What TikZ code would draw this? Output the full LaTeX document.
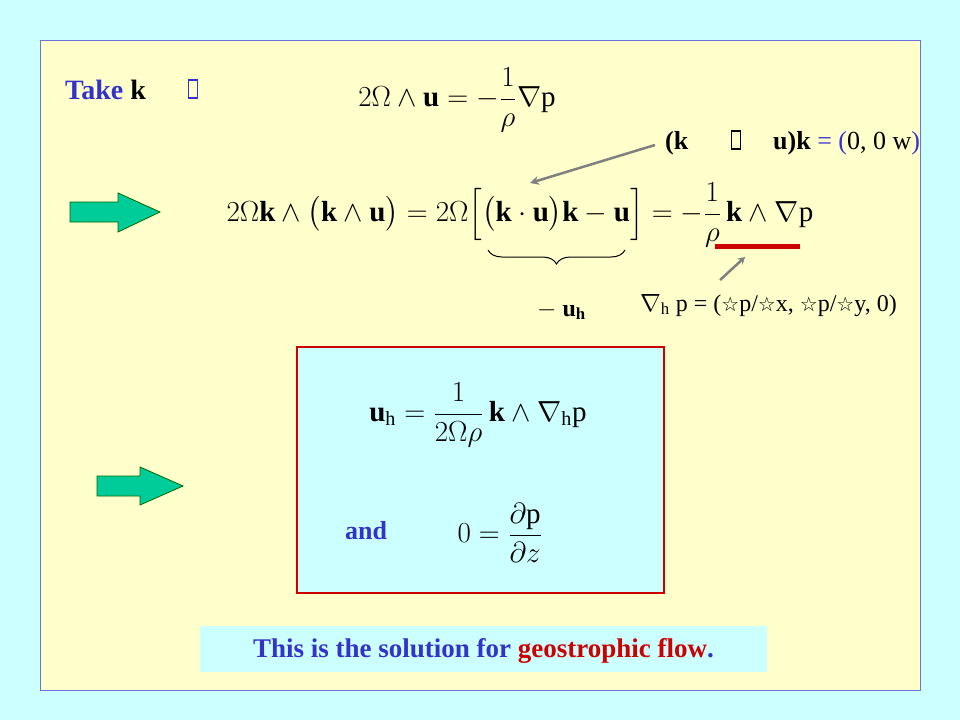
\documentclass[tikz,border=0pt]{standalone}
\usepackage{fontspec}
\setmainfont{Liberation Serif}
\newfontfamily\symf{DejaVu Sans}
\usepackage{amsmath}
\usetikzlibrary{decorations.pathreplacing,arrows.meta}
\definecolor{bgc}{HTML}{CCFFFF}
\definecolor{panel}{HTML}{FFFFCC}
\definecolor{tblue}{HTML}{3333CC}
\definecolor{tred}{HTML}{CC0000}
\definecolor{agreen}{HTML}{00CC99}
\newcommand{\wst}{{\symf\fontsize{20}{22}\selectfont ☆}}
\newcommand{\EQ}[1]{\scalebox{1.4}{\fontsize{20.74}{24}\selectfont$\displaystyle #1$}}
\tikzset{
 garrow/.style={draw=black!60!green,fill=agreen,line width=0.8pt},
 ptr/.style={draw=gray,line width=2.5pt,-{Stealth[length=9pt,width=9pt]}},
 tofu/.style={draw=tblue,line width=1.5pt,minimum width=9pt,minimum height=18pt,inner sep=0pt},
 eq/.style={inner sep=0pt},
 lbl/.style={font=\fontsize{24}{28}\selectfont,inner sep=0pt,anchor=base west}
}
\begin{document}
\begin{tikzpicture}[x=1pt,y=-1pt]
\fill[bgc] (0,0) rectangle (960,720);
\filldraw[fill=panel,draw=tblue!70,line width=0.8pt] (40,40) rectangle (920,690);
% Take k
\node[lbl,text=tblue,font=\fontsize{28}{30}\selectfont\bfseries] (take) at (65,99) {Take \textcolor{black}{k}};
\node[tofu] (t1) at (193,89) {};
\node[eq] (eq1) at (457,100) {\EQ{2\Omega\wedge\mathbf{u}=-\frac{1}{\rho}\nabla \mathrm{p}}};
% top right label
\node[lbl,font=\fontsize{26}{28}\selectfont\bfseries] (kk) at (665,149) {(k};
\node[tofu,draw=black] (t2) at (736,140) {};
\node[lbl,font=\fontsize{26}{28}\selectfont] (ku) at (773,149) {\textbf{u)k} \textcolor{tblue}{= (}0, 0 w\textcolor{tblue}{)}};
% arrows
\filldraw[garrow] (70,202) -- (118,202) -- (118,193) -- (160,212) -- (118,232) -- (118,222) -- (70,222) -- cycle;
\filldraw[garrow] (97,476) -- (140,476) -- (140,467) -- (183,486) -- (140,505) -- (140,496) -- (97,496) -- cycle;
% eq2
\node[eq] (eq2) at (520,215) {\EQ{2\Omega\mathbf{k}\wedge\big(\mathbf{k}\wedge\mathbf{u}\big)=2\Omega\Big[\big(\mathbf{k}\cdot\mathbf{u}\big)\mathbf{k}-\mathbf{u}\Big]=-\frac{1}{\rho}\,\mathbf{k}\wedge\nabla \mathrm{p}}};
\coordinate (c1) at (655,145);
\coordinate (c2) at (530,183);
\draw[ptr] (c1) -- (c2);
\coordinate (b1) at (488,250);
\coordinate (b2) at (625,250);
\draw[decorate,decoration={brace,mirror,amplitude=14pt},line width=1pt] (b1) -- (b2);
\node[lbl,font=\fontsize{24}{28}\selectfont\bfseries] (uh) at (537,316) {$-$ u\textsubscript{h}};
\coordinate (r1) at (715,246);
\coordinate (r2) at (800,246);
\draw[tred,line width=5pt] (r1) -- (r2);
\coordinate (p1) at (720,280);
\coordinate (p2) at (745,257);
\draw[ptr,-{Stealth[length=7pt,width=8pt]}] (p1) -- (p2);
\node[lbl,font=\fontsize{24}{26}\selectfont] (gh) at (640,311) {$\nabla$\textsubscript{h} p = (\wst p/\wst x, \wst p/\wst y, 0)};
% box
\filldraw[fill=bgc,draw=tred,line width=2pt] (297,347) rectangle (664,593);
\node[eq] (eq3) at (478,415) {\EQ{\mathbf{u}_{\mathrm{h}}=\frac{1}{2\Omega\rho}\,\mathbf{k}\wedge\nabla_{\mathrm{h}}\mathrm{p}}};
\node[lbl,text=tblue,font=\fontsize{26}{28}\selectfont\bfseries] (and) at (345,539) {and};
\node[eq] (eq4) at (500,533) {\EQ{0=\frac{\partial \mathrm{p}}{\partial z}}};
% bottom
\node[fill=bgc,minimum width=567pt,minimum height=46pt,inner sep=0pt] (bt) at (483.5,649) {};
\node[font=\fontsize{27}{30}\selectfont\bfseries,text=tblue] (btt) at (483.5,651) {This is the solution for \textcolor{tred}{geostrophic flow}.};
\end{tikzpicture}
\end{document}
